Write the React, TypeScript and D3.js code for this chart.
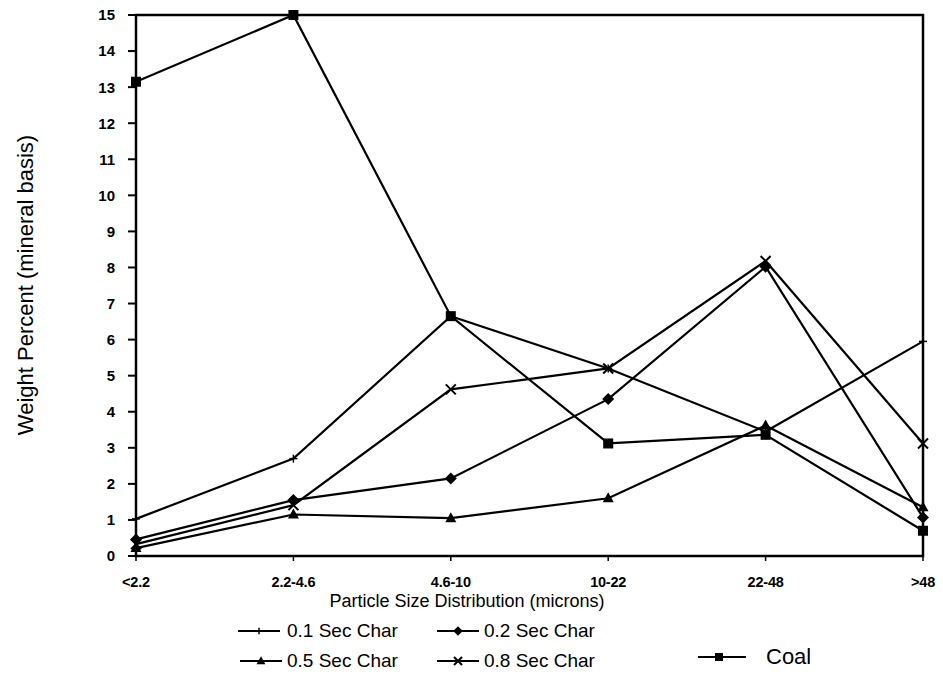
import React from "react";
import * as d3 from "d3";

const categories = ["<2.2", "2.2-4.6", "4.6-10", "10-22", "22-48", ">48"];
const sec01 = [1.03, 2.7, 6.65, 5.2, 3.45, 5.95];
const sec02 = [0.46, 1.55, 2.15, 4.35, 8.02, 1.07];
const sec05 = [0.22, 1.15, 1.05, 1.6, 3.62, 1.35];
const sec08 = [0.33, 1.41, 4.62, 5.2, 8.18, 3.12];
const coal = [13.15, 15.0, 6.65, 3.12, 3.36, 0.7];
const yTicks = d3.range(0, 16);

type MarkerKind = "plus" | "diamond" | "triangle" | "cross" | "square";

const seriesList: { name: string; values: number[]; marker: MarkerKind }[] = [
  { name: "0.1 Sec Char", values: sec01, marker: "plus" },
  { name: "0.2 Sec Char", values: sec02, marker: "diamond" },
  { name: "0.5 Sec Char", values: sec05, marker: "triangle" },
  { name: "0.8 Sec Char", values: sec08, marker: "cross" },
  { name: "Coal", values: coal, marker: "square" },
];

const FONT = "'Liberation Sans', Arial, Helvetica, sans-serif";

function Marker({ kind, x, y, scale = 1 }: { kind: MarkerKind; x: number; y: number; scale?: number }) {
  const s = scale;
  switch (kind) {
    case "plus":
      return (
        <g stroke="#000" strokeWidth={1.5}>
          <line x1={x - 4 * s} x2={x + 4 * s} y1={y} y2={y} />
          <line x1={x} x2={x} y1={y - 4 * s} y2={y + 4 * s} />
        </g>
      );
    case "diamond":
      return <path d={`M${x},${y - 6 * s}L${x + 6 * s},${y}L${x},${y + 6 * s}L${x - 6 * s},${y}Z`} fill="#000" />;
    case "triangle":
      return <path d={`M${x},${y - 6 * s}L${x + 5.5 * s},${y + 4 * s}L${x - 5.5 * s},${y + 4 * s}Z`} fill="#000" />;
    case "cross":
      return (
        <g stroke="#000" strokeWidth={2}>
          <line x1={x - 5 * s} x2={x + 5 * s} y1={y - 5 * s} y2={y + 5 * s} />
          <line x1={x - 5 * s} x2={x + 5 * s} y1={y + 5 * s} y2={y - 5 * s} />
        </g>
      );
    case "square":
      return <rect x={x - 5 * s} y={y - 5 * s} width={10 * s} height={10 * s} fill="#000" />;
  }
}

export default function App() {
  const left = 136, right = 923, top = 15, bottom = 556;
  const x = d3.scalePoint<string>().domain(categories).range([left, right]).padding(0);
  const y = d3.scaleLinear().domain([0, 15]).range([bottom, top]);
  const line = d3
    .line<number>()
    .x((_, i) => x(categories[i]) as number)
    .y((v) => y(v));

  const legendItems = [
    { s: seriesList[0], lx: 238, ly: 631, tx: 287, ty: 637, fs: 19 },
    { s: seriesList[1], lx: 437, ly: 631, tx: 484, ty: 637, fs: 19 },
    { s: seriesList[2], lx: 240, ly: 661, tx: 287, ty: 667, fs: 19 },
    { s: seriesList[3], lx: 437, ly: 661, tx: 484, ty: 667, fs: 19 },
    { s: seriesList[4], lx: 698, ly: 657, tx: 766, ty: 664, fs: 22 },
  ];

  return (
    <svg
      width={943}
      height={684}
      style={{ position: "absolute", left: 0, top: 0, background: "#fff" }}
      fontFamily={FONT}
    >
      <rect x={0} y={0} width={943} height={684} fill="#fff" />
      {/* frame */}
      <rect x={left} y={top} width={right - left} height={bottom - top} fill="none" stroke="#000" strokeWidth={2.5} />
      {/* y ticks */}
      {yTicks.map((t) => (
        <g key={t}>
          <line x1={left - 8} x2={left} y1={y(t)} y2={y(t)} stroke="#000" strokeWidth={2} />
          <text x={115} y={y(t)} dy="0.36em" textAnchor="end" fontSize={15} fontWeight="bold">
            {t}
          </text>
        </g>
      ))}
      {/* x ticks */}
      {categories.map((c) => (
        <g key={c}>
          <line x1={x(c)} x2={x(c)} y1={bottom} y2={bottom + 5} stroke="#000" strokeWidth={1.5} />
          <text x={x(c)} y={587} textAnchor="middle" fontSize={14.5} fontWeight="bold" letterSpacing={-0.2}>
            {c}
          </text>
        </g>
      ))}
      {/* axis titles */}
      <text x={467} y={607} textAnchor="middle" fontSize={18}>
        Particle Size Distribution (microns)
      </text>
      <text transform="translate(33,285) rotate(-90)" textAnchor="middle" fontSize={22}>
        Weight Percent (mineral basis)
      </text>
      {/* series lines */}
      {seriesList.map((s) => (
        <path key={s.name} d={line(s.values) || ""} fill="none" stroke="#000" strokeWidth={2.2} />
      ))}
      {/* markers */}
      {seriesList.map((s) =>
        s.values.map((v, i) => (
          <Marker key={s.name + i} kind={s.marker} x={x(categories[i]) as number} y={y(v)} />
        ))
      )}
      {/* legend */}
      {legendItems.map(({ s, lx, ly, tx, ty, fs }) => (
        <g key={s.name}>
          <line x1={lx} x2={lx + (s.marker === "square" ? 48 : 42)} y1={ly} y2={ly} stroke="#000" strokeWidth={2} />
          <Marker kind={s.marker} x={lx + 21} y={ly} scale={0.8} />
          <text x={tx} y={ty} fontSize={fs}>
            {s.name}
          </text>
        </g>
      ))}
    </svg>
  );
}
